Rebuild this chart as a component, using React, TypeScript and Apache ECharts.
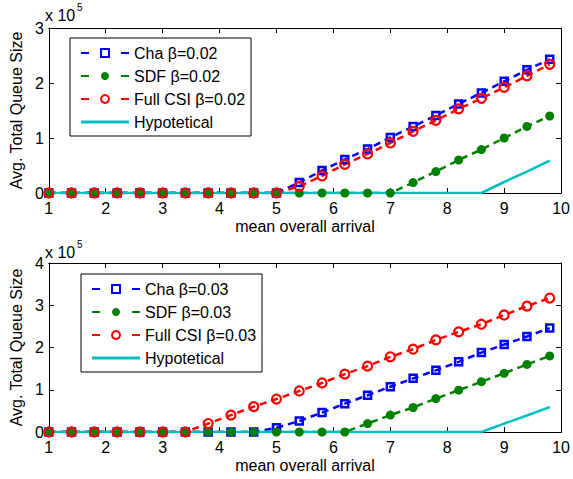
import React, { useEffect, useRef } from 'react';
import * as echarts from 'echarts';

// x positions (mean overall arrival)
const xs = [1, 1.4, 1.8, 2.2, 2.6, 3.0, 3.4, 3.8, 4.2, 4.6, 5.0, 5.4, 5.8, 6.2, 6.6, 7.0, 7.4, 7.8, 8.2, 8.6, 9.0, 9.4, 9.8];

// Top panel (beta = 0.02), values in units of 1e5
const chaTop = [0, 0, 0, 0, 0, 0, 0, 0, 0, 0, 0, 0.19, 0.41, 0.61, 0.80, 1.01, 1.21, 1.41, 1.62, 1.82, 2.03, 2.24, 2.43];
const sdfTop = [0, 0, 0, 0, 0, 0, 0, 0, 0, 0, 0, 0, 0, 0, 0, 0, 0.19, 0.39, 0.60, 0.79, 1.00, 1.21, 1.40];
const fullTop = [0, 0, 0, 0, 0, 0, 0, 0, 0, 0, 0, 0.12, 0.31, 0.52, 0.71, 0.91, 1.12, 1.32, 1.53, 1.72, 1.92, 2.13, 2.34];
const hypTop = [0, 0, 0, 0, 0, 0, 0, 0, 0, 0, 0, 0, 0, 0, 0, 0, 0, 0, 0, 0, 0.20, 0.39, 0.59];

// Bottom panel (beta = 0.03)
const chaBot = [0, 0, 0, 0, 0, 0, 0, 0, 0, 0, 0.10, 0.26, 0.46, 0.67, 0.87, 1.07, 1.27, 1.46, 1.66, 1.88, 2.07, 2.26, 2.46];
const sdfBot = [0, 0, 0, 0, 0, 0, 0, 0, 0, 0, 0, 0, 0, 0, 0.20, 0.40, 0.58, 0.79, 0.99, 1.19, 1.39, 1.60, 1.80];
const fullBot = [0, 0, 0, 0, 0, 0, 0, 0.20, 0.40, 0.60, 0.78, 0.97, 1.16, 1.37, 1.56, 1.78, 1.96, 2.18, 2.37, 2.55, 2.77, 2.98, 3.17];
const hypBot = [0, 0, 0, 0, 0, 0, 0, 0, 0, 0, 0, 0, 0, 0, 0, 0, 0, 0, 0, 0, 0.20, 0.39, 0.59];

const namesTop = ['Cha β=0.02', 'SDF β=0.02', 'Full CSI β=0.02', 'Hypotetical'];
const namesBot = ['Cha β=0.03', 'SDF β=0.03', 'Full CSI β=0.03', 'Hypotetical'];
const yMaxTop = 3;
const yMaxBot = 4;

const FONT = 'Liberation Sans, Arial, Helvetica, sans-serif';
const FS = 16;
const BLUE = '#0000FF';
const GREEN = '#008000';
const RED = '#FF0000';
const CYAN = '#00BFBF';

const pts = (ys: number[]) => xs.map((x, i) => [x, ys[i]]);

function xAxes(gridIndex: number) {
  const common = {
    type: 'value', gridIndex, min: 1, max: 10, interval: 1,
    axisLine: { show: true, onZero: false, lineStyle: { color: '#000', width: 1 } },
    axisTick: { show: true, inside: true, length: 5, lineStyle: { color: '#000' } },
    splitLine: { show: false },
  };
  return [
    {
      ...common, position: 'bottom',
      axisLabel: { color: '#000', fontSize: FS, fontFamily: FONT, margin: 7 },
      name: 'mean overall arrival', nameLocation: 'middle', nameGap: 25,
      nameTextStyle: { color: '#000', fontSize: FS, fontFamily: FONT },
    },
    { ...common, position: 'top', axisLabel: { show: false } },
  ];
}

function yAxes(gridIndex: number, max: number) {
  const common = {
    type: 'value', gridIndex, min: 0, max, interval: 1,
    axisLine: { show: true, onZero: false, lineStyle: { color: '#000', width: 1 } },
    axisTick: { show: true, inside: true, length: 5, lineStyle: { color: '#000' } },
    splitLine: { show: false },
  };
  return [
    {
      ...common, position: 'left',
      axisLabel: { color: '#000', fontSize: FS, fontFamily: FONT, margin: 5 },
      name: 'Avg. Total Queue Size', nameLocation: 'middle', nameGap: 22,
      nameTextStyle: { color: '#000', fontSize: FS, fontFamily: FONT },
    },
    { ...common, position: 'right', axisLabel: { show: false } },
  ];
}

function seriesSet(names: string[], data: number[][], xi: number, yi: number) {
  const dash = [7, 5];
  return [
    {
      type: 'line', name: names[0], xAxisIndex: xi, yAxisIndex: yi, data: pts(data[0]),
      symbol: 'rect', symbolSize: 7,
      itemStyle: { color: 'rgba(255,255,255,0)', borderColor: BLUE, borderWidth: 2.5 },
      lineStyle: { color: BLUE, width: 2.5, type: dash },
    },
    {
      type: 'line', name: names[1], xAxisIndex: xi, yAxisIndex: yi, data: pts(data[1]),
      symbol: 'circle', symbolSize: 9,
      itemStyle: { color: GREEN, borderWidth: 0 },
      lineStyle: { color: GREEN, width: 2.5, type: dash },
    },
    {
      type: 'line', name: names[2], xAxisIndex: xi, yAxisIndex: yi, data: pts(data[2]),
      symbol: 'circle', symbolSize: 9,
      itemStyle: { color: 'rgba(255,255,255,0)', borderColor: RED, borderWidth: 2.2 },
      lineStyle: { color: RED, width: 2.5, type: dash },
    },
    {
      type: 'line', name: names[3], xAxisIndex: xi, yAxisIndex: yi, data: pts(data[3]),
      symbol: 'none', showSymbol: false,
      itemStyle: { color: CYAN },
      lineStyle: { color: CYAN, width: 2.5, type: 'solid' },
    },
  ];
}

function legend(names: string[], left: number, top: number) {
  return {
    orient: 'vertical', left, top,
    data: [
      { name: names[0] }, { name: names[1] }, { name: names[2] },
      { name: names[3], icon: 'path://M0,0L48,0L48,3L0,3Z' },
    ],
    itemWidth: 48, itemHeight: 10, itemGap: 7,
    padding: [7, 6, 6, 10],
    borderColor: '#000', borderWidth: 1, borderRadius: 0, backgroundColor: '#fff',
    textStyle: { fontSize: FS, color: '#000', fontFamily: FONT, lineHeight: 16 },
    lineStyle: { type: [8, 32] },
    selectedMode: false,
  };
}

export default function App() {
  const ref = useRef<HTMLDivElement>(null);
  useEffect(() => {
    document.body.style.margin = '0';
    const chart = echarts.init(ref.current as HTMLDivElement, null, { renderer: 'svg' });
    const option = {
      animation: false,
      backgroundColor: '#fff',
      grid: [
        { left: 45, right: 9, top: 28, height: 165, containLabel: false },
        { left: 45, right: 9, top: 263, height: 169, containLabel: false },
      ],
      xAxis: [...xAxes(0), ...xAxes(1)],
      yAxis: [...yAxes(0, yMaxTop), ...yAxes(1, yMaxBot)],
      legend: [legend(namesTop, 70, 38), legend(namesBot, 81, 274)],
      series: [
        ...seriesSet(namesTop, [chaTop, sdfTop, fullTop, hypTop], 0, 0),
        ...seriesSet(namesBot, [chaBot, sdfBot, fullBot, hypBot], 2, 2),
      ],
      graphic: [
        { type: 'text', left: 45, top: 7, style: { text: 'x 10', fontSize: 16, fill: '#000', fontFamily: FONT } },
        { type: 'text', left: 77, top: 2, style: { text: '5', fontSize: 10, fill: '#000', fontFamily: FONT } },
        { type: 'text', left: 45, top: 244, style: { text: 'x 10', fontSize: 16, fill: '#000', fontFamily: FONT } },
        { type: 'text', left: 77, top: 239, style: { text: '5', fontSize: 10, fill: '#000', fontFamily: FONT } },
      ],
    };
    chart.setOption(option as any);
    return () => chart.dispose();
  }, []);
  return <div ref={ref} style={{ width: 573, height: 479 }} />;
}
